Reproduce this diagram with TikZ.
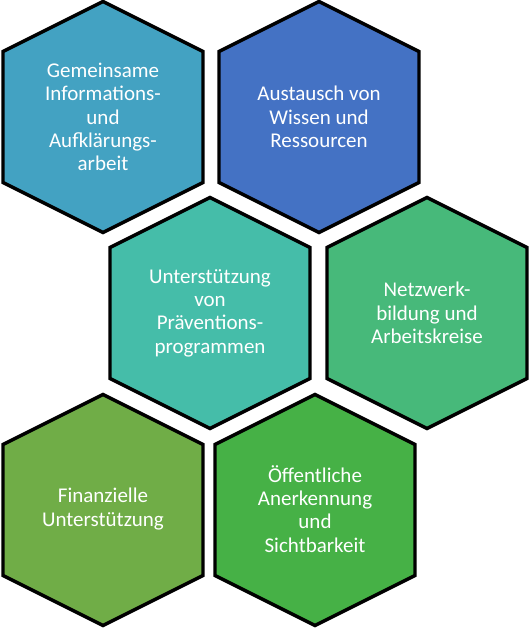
\documentclass[tikz,border=0pt]{standalone}
\usepackage{fontspec}
\setmainfont{Carlito}
\usetikzlibrary{positioning}

\definecolor{hexA}{RGB}{67,162,194}
\definecolor{hexB}{RGB}{68,114,196}
\definecolor{hexC}{RGB}{69,189,169}
\definecolor{hexD}{RGB}{71,185,122}
\definecolor{hexE}{RGB}{112,173,71}
\definecolor{hexF}{RGB}{70,177,70}

\begin{document}
\begin{tikzpicture}[
    x=1pt, y=-1pt,
    hexline/.style={draw=black, line width=3.4pt, line join=miter},
    hextext/.style={text=white, align=center, font=\fontsize{21}{23.3}\selectfont, inner sep=0pt}
]
\useasboundingbox (0,0) rectangle (530,629);

% Hexagons
\foreach \cx/\cy/\col in {103/117/hexA, 319/117/hexB, 210/313/hexC, 427/313/hexD, 103/510/hexE, 315/510/hexF}
  \filldraw[hexline, fill=\col] (\cx,\cy) ++(0,-115.5) -- ++(100,50) -- ++(0,131) -- ++(-100,50) -- ++(-100,-50) -- ++(0,-131) -- cycle;

% Nodes
\node[hextext] (info) at (103,117) {Gemeinsame\\Informations-\\und\\Aufklärungs-\\arbeit};
\node[hextext] (austausch) at (319,117) {Austausch von\\Wissen und\\Ressourcen};
\node[hextext] (praevention) at (210,313) {Unterstützung\\von\\Präventions-\\programmen};
\node[hextext] (netzwerk) at (427,313) {Netzwerk-\\bildung und\\Arbeitskreise};
\node[hextext] (finanz) at (103,509) {Finanzielle\\Unterstützung};
\node[hextext] (anerkennung) at (315,509) {Öffentliche\\Anerkennung\\und\\Sichtbarkeit};

\end{tikzpicture}
\end{document}
